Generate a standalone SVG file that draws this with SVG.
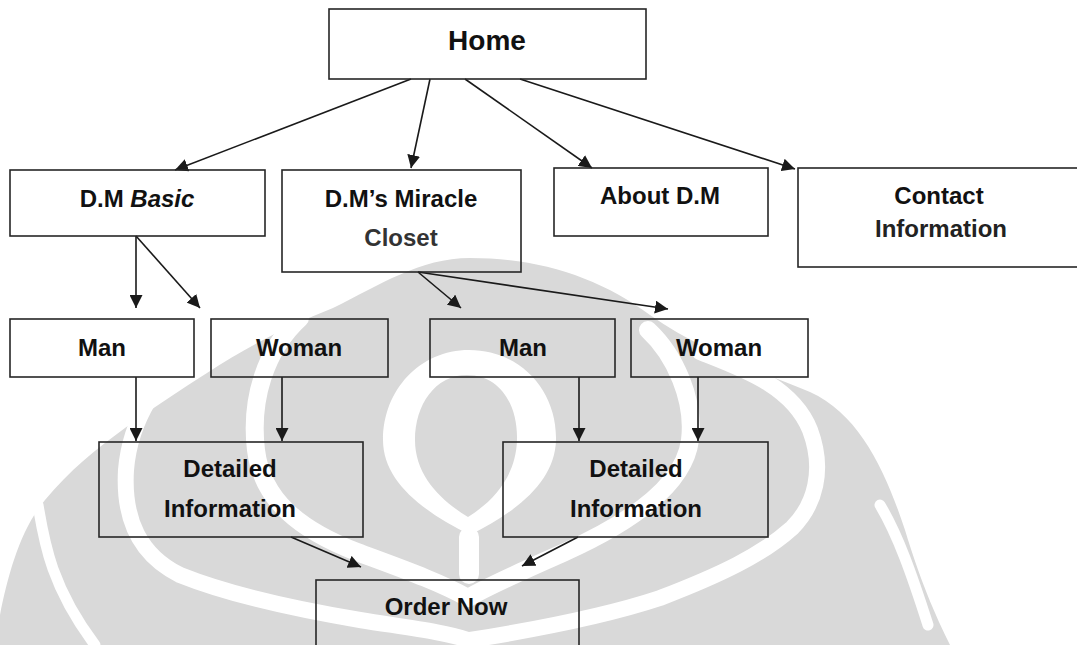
<svg xmlns="http://www.w3.org/2000/svg" width="1077" height="645" viewBox="0 0 1077 645">
  <style>
    .box { fill: none; stroke: #262626; stroke-width: 1.6; }
    .lbl { font-family: "Liberation Sans", Arial, sans-serif; font-weight: bold; font-size: 24px; fill: #111; text-anchor: middle; }
    .edge { stroke: #1a1a1a; stroke-width: 1.6; fill: none; marker-end: url(#arr); }
    .wm { fill: #d9d9d9; }
    .wb { fill: none; stroke: #ffffff; stroke-linecap: round; stroke-linejoin: round; }
  </style>
  <defs>
    <marker id="arr" markerUnits="userSpaceOnUse" markerWidth="14" markerHeight="13" refX="13" refY="6.5" orient="auto">
      <path d="M0,0 L13,6.5 L0,13 Z" fill="#1a1a1a"/>
    </marker>
  </defs>

  <rect x="0" y="0" width="1077" height="645" fill="#ffffff"/>

  <g id="watermark">
    <path class="wm" d="M470,258 C540,258 600,278 650,315 C700,350 760,372 810,392 C860,415 885,470 905,530 C920,580 935,615 950,645 L0,645 L0,615 C8,575 20,530 45,500 C70,470 95,450 125,428 C150,410 180,390 207,373 C250,345 290,325 333,308 C380,285 420,258 470,258 Z"/>
    <path class="wb" stroke-width="11" d="M38,505 C44,540 50,585 95,645"/>
    <path class="wb" stroke-width="11" d="M880,505 C898,535 912,575 928,625"/>
    <path class="wb" stroke-width="16" d="M200,345 C158,375 130,420 126,470 C123,520 140,555 180,575 C230,595 300,610 360,620 C410,628 445,632 468,640"/>
    <path class="wb" stroke-width="16" d="M700,352 C740,368 792,385 810,430 C825,470 815,505 792,528 C762,555 720,575 660,598 C600,618 520,632 470,640"/>
    <path class="wb" stroke-width="18" d="M300,318 C265,350 250,400 256,450 C262,500 300,530 357,552 C400,568 440,582 468,598"/>
    <path class="wb" stroke-width="18" d="M648,330 C675,355 695,400 690,440 C684,488 625,525 565,552 C525,570 490,585 468,598"/>
    <path fill="#ffffff" fill-rule="evenodd" d="M469,350 C520,350 557,390 556,440 C555,480 520,510 470,535 C420,510 383,480 383,440 C383,390 420,350 469,350 Z M467,375 C500,375 518,405 517,440 C516,475 495,500 468,517 C440,500 415,475 415,440 C415,405 435,375 467,375 Z"/>
    <rect x="459" y="527" width="20" height="57" rx="10" fill="#ffffff"/>
  </g>

  <g id="connectors">
    <line class="edge" x1="411" y1="79" x2="175" y2="170"/>
    <line class="edge" x1="430" y1="79" x2="411" y2="168"/>
    <line class="edge" x1="465" y1="79" x2="592" y2="168"/>
    <line class="edge" x1="520" y1="79" x2="795" y2="169"/>
    <line class="edge" x1="136" y1="236" x2="136" y2="308"/>
    <line class="edge" x1="136" y1="236" x2="200" y2="308"/>
    <line class="edge" x1="418" y1="272" x2="461" y2="308"/>
    <line class="edge" x1="418" y1="272" x2="668" y2="309"/>
    <line class="edge" x1="136" y1="377" x2="136" y2="441"/>
    <line class="edge" x1="282" y1="377" x2="282" y2="441"/>
    <line class="edge" x1="579" y1="377" x2="579" y2="441"/>
    <line class="edge" x1="698" y1="377" x2="698" y2="441"/>
    <line class="edge" x1="291" y1="537" x2="361" y2="567"/>
    <line class="edge" x1="578" y1="537" x2="522" y2="566"/>
  </g>

  <g id="home">
    <rect class="box" x="329" y="9" width="317" height="70"/>
    <text class="lbl" x="487" y="50" style="font-size:28px">Home</text>
  </g>
  <g id="dm-basic">
    <rect class="box" x="10" y="170" width="255" height="66"/>
    <text class="lbl" x="137" y="207">D.M <tspan font-style="italic">Basic</tspan></text>
  </g>
  <g id="dm-miracle">
    <rect class="box" x="282" y="170" width="239" height="102"/>
    <text class="lbl" x="401" y="207">D.M’s Miracle</text>
    <text class="lbl" x="401" y="246" style="fill:#333">Closet</text>
  </g>
  <g id="about">
    <rect class="box" x="554" y="168" width="214" height="68"/>
    <text class="lbl" x="660" y="204">About D.M</text>
  </g>
  <g id="contact">
    <rect class="box" x="798" y="168" width="290" height="99"/>
    <text class="lbl" x="939" y="204">Contact</text>
    <text class="lbl" x="941" y="237" style="fill:#222">Information</text>
  </g>
  <g id="man1">
    <rect class="box" x="10" y="319" width="184" height="58"/>
    <text class="lbl" x="102" y="356">Man</text>
  </g>
  <g id="woman1">
    <rect class="box" x="211" y="319" width="177" height="58"/>
    <text class="lbl" x="299" y="356">Woman</text>
  </g>
  <g id="man2">
    <rect class="box" x="430" y="319" width="185" height="58"/>
    <text class="lbl" x="523" y="356">Man</text>
  </g>
  <g id="woman2">
    <rect class="box" x="631" y="319" width="177" height="58"/>
    <text class="lbl" x="719" y="356">Woman</text>
  </g>
  <g id="detail1">
    <rect class="box" x="99" y="442" width="264" height="95"/>
    <text class="lbl" x="230" y="477">Detailed</text>
    <text class="lbl" x="230" y="517">Information</text>
  </g>
  <g id="detail2">
    <rect class="box" x="503" y="442" width="265" height="95"/>
    <text class="lbl" x="636" y="477">Detailed</text>
    <text class="lbl" x="636" y="517">Information</text>
  </g>
  <g id="order">
    <rect class="box" x="316" y="580" width="263" height="80"/>
    <text class="lbl" x="446" y="615">Order Now</text>
  </g>
</svg>
